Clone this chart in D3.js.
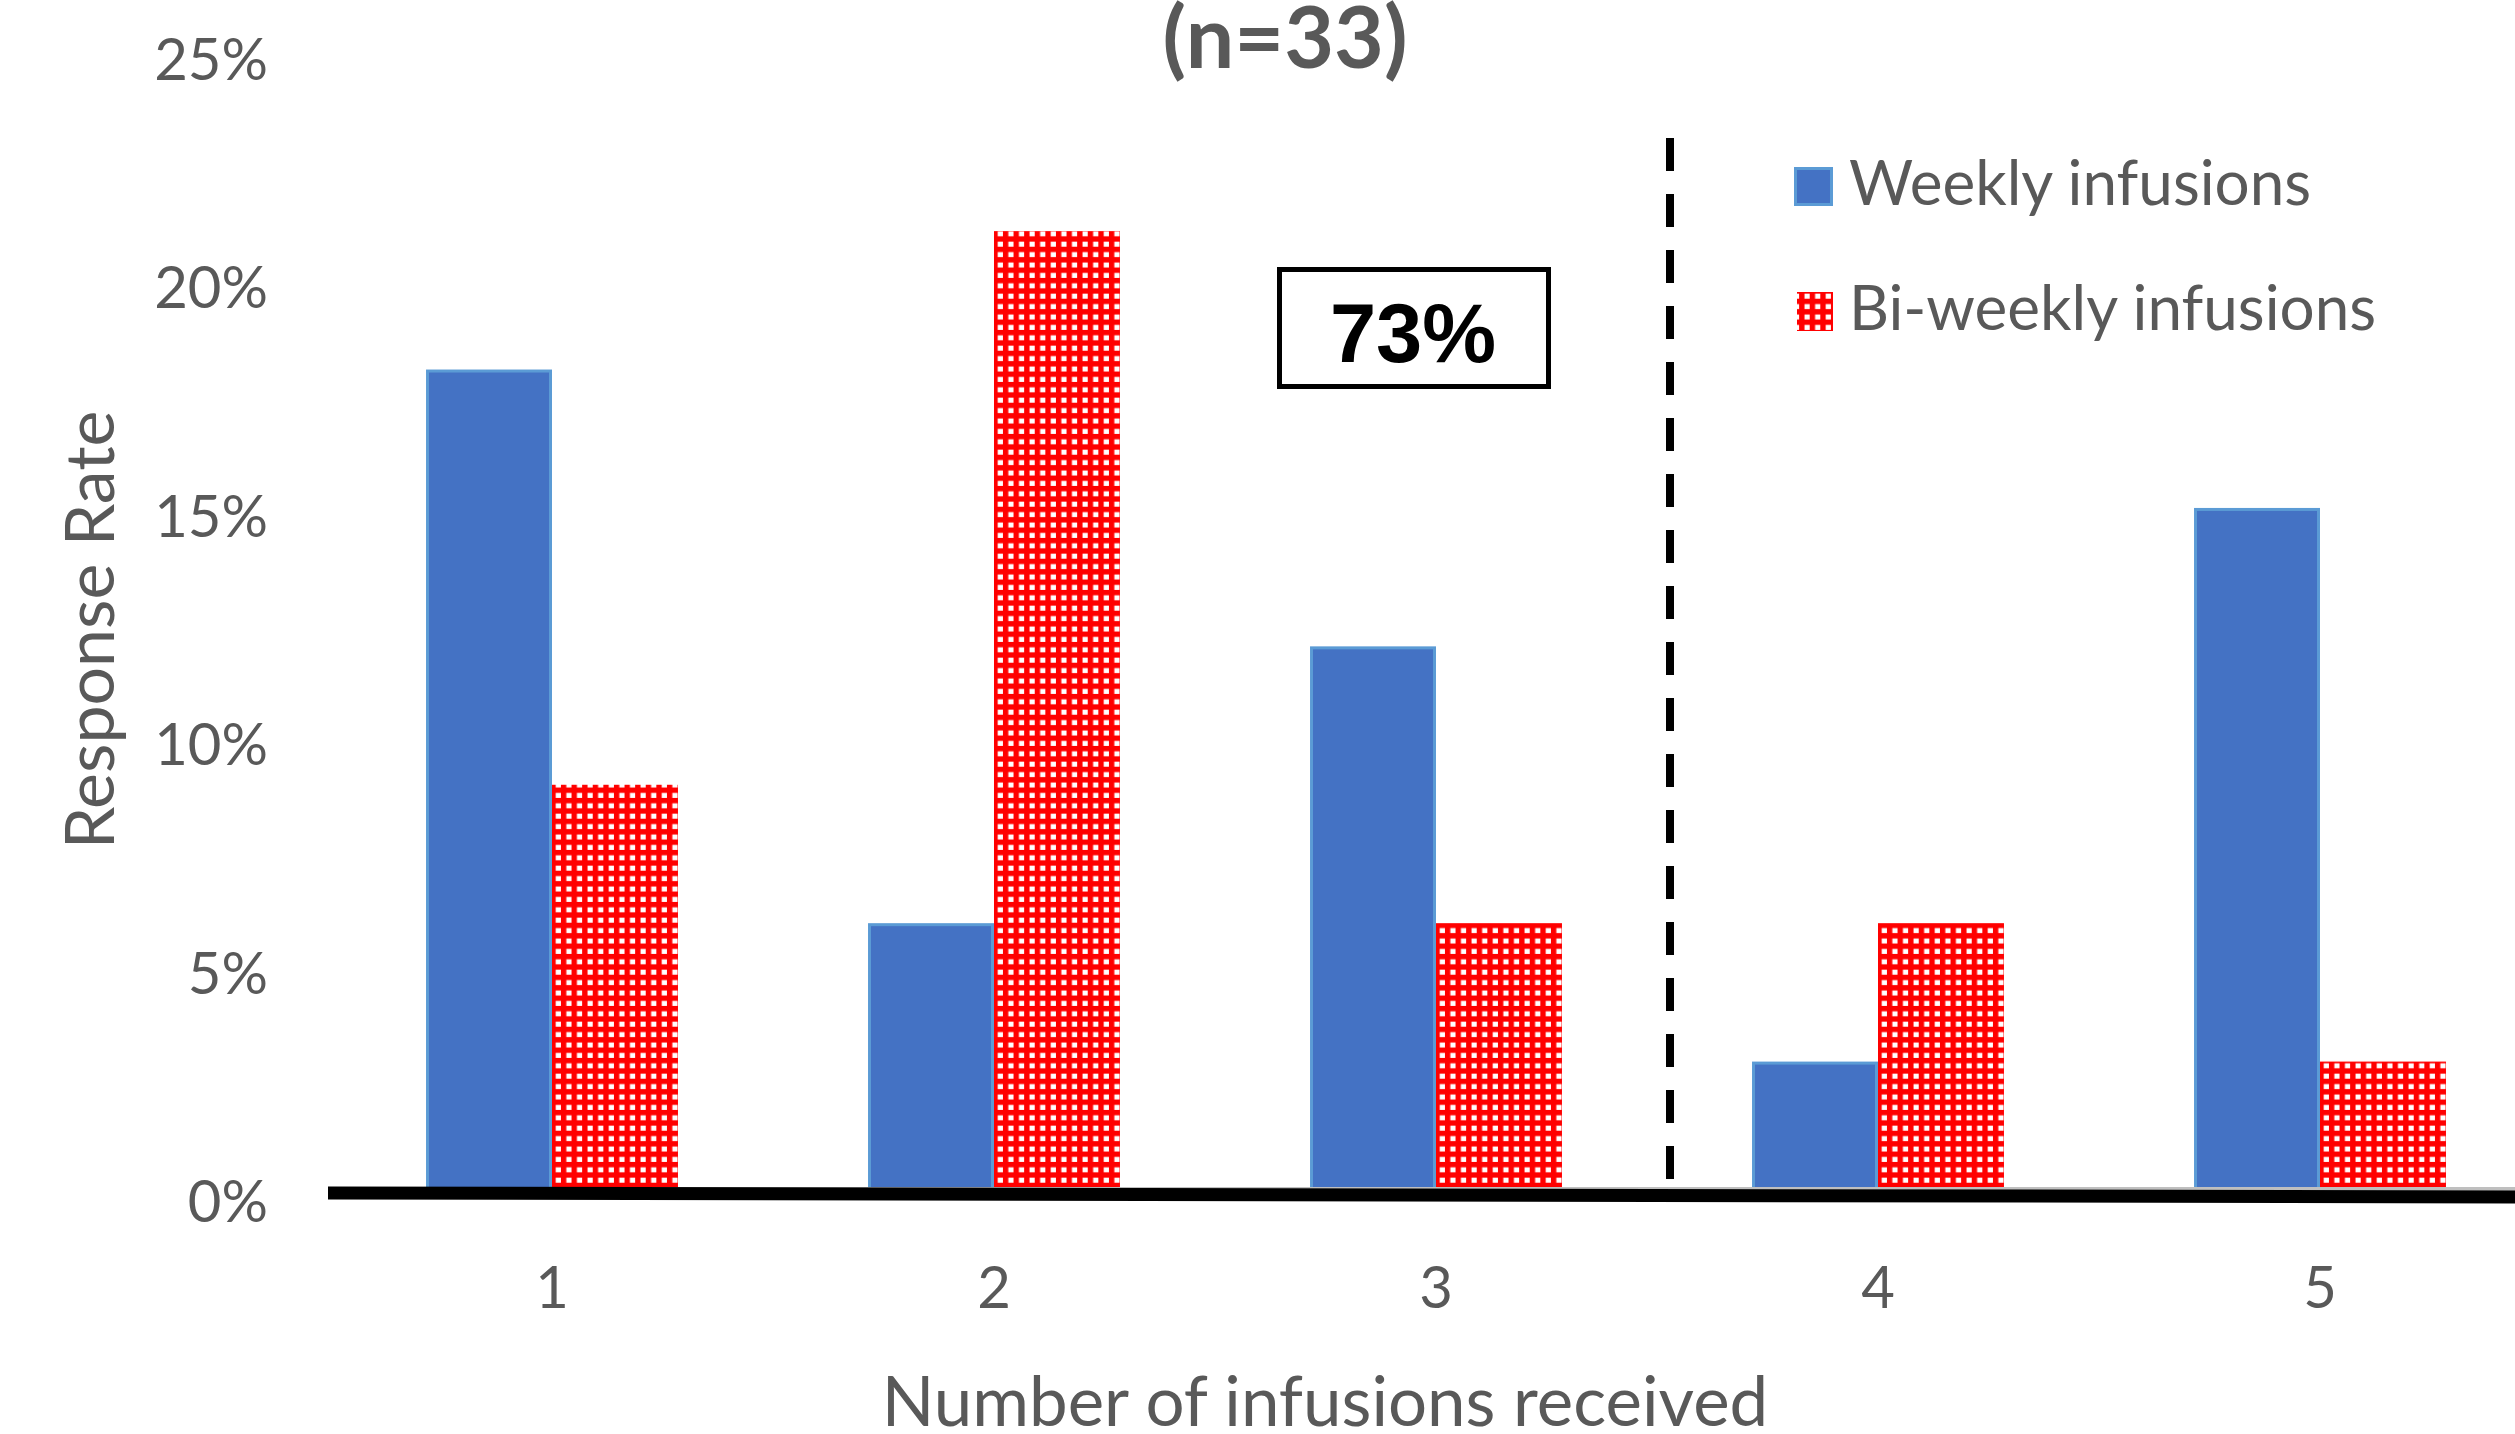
<!DOCTYPE html>
<html>
<head>
<meta charset="utf-8">
<script src="https://cdn.jsdelivr.net/npm/d3@7"></script>
<style>
  html, body { margin: 0; padding: 0; background: #ffffff; }
  svg { display: block; }
</style>
</head>
<body>
<script>
// Response rate by number of infusions received, weekly vs bi-weekly schedule
const categories = ["1", "2", "3", "4", "5"];
const seriesNames = ["Weekly infusions", "Bi-weekly infusions"];
const weekly   = [0.1818, 0.0606, 0.1212, 0.0303, 0.1515];
const biweekly = [0.0909, 0.2121, 0.0606, 0.0606, 0.0303];
const yTicks = [0, 0.05, 0.10, 0.15, 0.20, 0.25];
const titleText = "(n=33)";
const calloutText = "73%";
const xTitle = "Number of infusions received";
const yTitle = "Response Rate";

const W = 2515, H = 1434;
const textGray = "#595959";
const blueFill = "#4472C4", blueEdge = "#5B9BD5", red = "#FF0000";
const labelFont = "Lato, 'Open Sans', sans-serif";

const svg = d3.select("body").append("svg")
  .attr("width", W).attr("height", H)
  .attr("viewBox", `0 0 ${W} ${H}`);

const defs = svg.append("defs");
// red grid pattern for the bi-weekly series
const pat = defs.append("pattern")
  .attr("id", "redGrid")
  .attr("patternUnits", "userSpaceOnUse")
  .attr("width", 10.6).attr("height", 10.4);
pat.append("rect").attr("width", 10.6).attr("height", 10.4).attr("fill", red);
pat.append("rect").attr("x", 2.5).attr("y", 2.5).attr("width", 5.2).attr("height", 5).attr("fill", "#ffffff");

// scales
const x = d3.scaleBand().domain(categories).range([331, 2541])
  .paddingInner(0.43).paddingOuter(0.215);
const xs = d3.scaleBand().domain(seriesNames).range([0, x.bandwidth()]);
const y = d3.scaleLinear().domain([0, 0.25]).range([1200, 58]);

// bars stop under the heavy baseline
defs.append("clipPath").attr("id", "plotClip")
  .append("rect").attr("x", 0).attr("y", 0).attr("width", W).attr("height", y(0) - 8);

// y axis tick labels (no line, no ticks)
const yAxis = d3.axisLeft(y).tickValues(yTicks).tickFormat(d3.format(".0%")).tickSize(0).tickPadding(0);
const yg = svg.append("g").attr("transform", "translate(268,3)").call(yAxis);
yg.select(".domain").remove();
yg.selectAll("text")
  .attr("fill", textGray).attr("font-family", labelFont).attr("font-size", 58);

// x axis tick labels
const xAxis = d3.axisBottom(x).tickSize(0).tickPadding(0);
const xg = svg.append("g").attr("transform", "translate(0,1267)").call(xAxis);
xg.select(".domain").remove();
xg.selectAll("text")
  .attr("fill", textGray).attr("font-family", labelFont).attr("font-size", 58);

// bars
const rows = categories.map((c, i) => ({ c, values: [weekly[i], biweekly[i]] }));
const groups = svg.append("g").attr("clip-path", "url(#plotClip)")
  .selectAll("g").data(rows).join("g")
  .attr("transform", d => `translate(${x(d.c)},0)`);

groups.append("rect")
  .attr("x", xs(seriesNames[0]) + 1.5)
  .attr("width", xs.bandwidth() - 3)
  .attr("y", d => y(d.values[0]) + 1.5)
  .attr("height", d => y(0) - y(d.values[0]))
  .attr("fill", blueFill).attr("stroke", blueEdge).attr("stroke-width", 3);

groups.append("rect")
  .attr("x", xs(seriesNames[1]))
  .attr("width", xs.bandwidth())
  .attr("y", d => y(d.values[1]))
  .attr("height", d => y(0) - y(d.values[1]))
  .attr("fill", "url(#redGrid)");

// category axis line with the heavy baseline drawn over it
svg.append("line")
  .attr("x1", 328).attr("x2", W).attr("y1", y(0) - 11).attr("y2", y(0) - 11)
  .attr("stroke", "#BFBFBF").attr("stroke-width", 4);
svg.append("line")
  .attr("x1", 328).attr("x2", W).attr("y1", y(0) - 7).attr("y2", y(0) - 3)
  .attr("stroke", "#000000").attr("stroke-width", 13);

// dashed divider between 3 and 4 infusions
svg.append("line")
  .attr("x1", 1670).attr("x2", 1670).attr("y1", 138).attr("y2", y(0) - 12)
  .attr("stroke", "#000000").attr("stroke-width", 8)
  .attr("stroke-dasharray", "33 23");

// callout box
svg.append("rect")
  .attr("x", 1279.5).attr("y", 269.5).attr("width", 269).attr("height", 117)
  .attr("fill", "#ffffff").attr("stroke", "#000000").attr("stroke-width", 5);
svg.append("text")
  .attr("x", 1413).attr("y", 362).attr("text-anchor", "middle")
  .attr("font-family", "'Liberation Sans', Arial, sans-serif").attr("font-weight", "bold")
  .attr("font-size", 83).attr("fill", "#000000").text(calloutText);

// title (partly above the top edge)
svg.append("text")
  .attr("x", 1285).attr("y", 68).attr("text-anchor", "middle")
  .attr("font-family", labelFont).attr("font-weight", "bold")
  .attr("font-size", 86).attr("fill", textGray).text(titleText);

// axis titles
svg.append("text")
  .attr("x", 1325).attr("y", 1426).attr("text-anchor", "middle")
  .attr("font-family", labelFont).attr("font-size", 69).attr("fill", textGray).text(xTitle);
svg.append("text")
  .attr("transform", "translate(114,630) rotate(-90)").attr("text-anchor", "middle")
  .attr("font-family", labelFont).attr("font-size", 68).attr("fill", textGray).text(yTitle);

// legend
const legend = svg.append("g");
legend.append("rect")
  .attr("x", 1795.5).attr("y", 168.5).attr("width", 36).attr("height", 36)
  .attr("fill", blueFill).attr("stroke", blueEdge).attr("stroke-width", 3);
legend.append("rect")
  .attr("x", 1797).attr("y", 292).attr("width", 36).attr("height", 39)
  .attr("fill", "url(#redGrid)");
legend.selectAll("text.leg").data(seriesNames).join("text")
  .attr("class", "leg")
  .attr("x", 1849).attr("y", (d, i) => 205 + i * 125)
  .attr("font-family", labelFont).attr("font-size", 62).attr("fill", textGray)
  .text(d => d);
</script>
</body>
</html>
